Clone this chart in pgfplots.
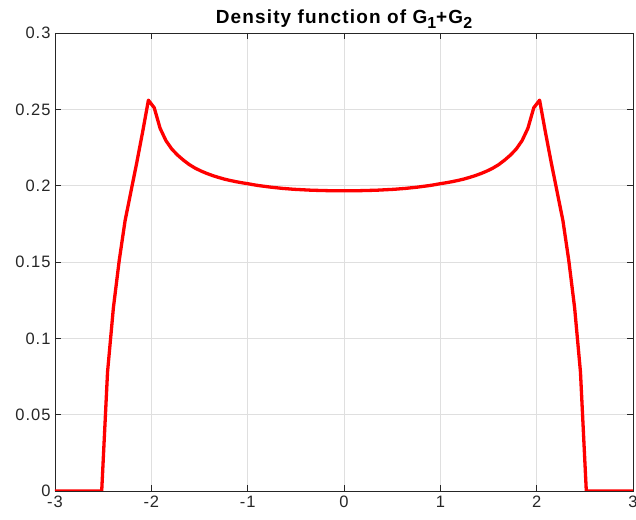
\documentclass[border=0pt]{standalone}
\usepackage{pgfplots}
\pgfplotsset{compat=1.18}
\usepackage{fontspec}
\setmainfont{Liberation Sans}
\newfontfamily\tickfont[LetterSpace=6]{Liberation Sans}
\newfontfamily\titlefont[LetterSpace=6]{Liberation Sans}
\definecolor{axgray}{RGB}{38,38,38}
\definecolor{gridgray}{RGB}{223,223,223}
\newcommand{\sub}[1]{\raisebox{-0.5ex}{\fontsize{16}{16}\selectfont\bfseries #1}}

\begin{document}
\begin{tikzpicture}[x=1pt,y=1pt]
\begin{axis}[
  scale only axis,
  width=578pt, height=458pt,
  xmin=-3, xmax=3, ymin=0, ymax=0.3,
  xtick={-3,-2,...,3},
  ytick={0,0.05,...,0.3},
  scaled y ticks=false,
  yticklabel style={/pgf/number format/fixed, /pgf/number format/precision=2},
  /pgf/number format/assume math mode=true,
  tick label style={font=\tickfont\fontsize{16.5}{18}\selectfont, text=axgray},
  xticklabel style={yshift=-1.5pt},
  yticklabel style={xshift=-1pt},
  axis line style={axgray, line width=0.7pt},
  major tick style={axgray, line width=0.7pt},
  tick align=inside,
  major tick length=6pt,
  xtick pos=both, ytick pos=both,
  grid=major,
  major grid style={gridgray, line width=0.6pt},
  title={\textbf{Density function of G\sub{1}+G\sub{2}}},
  title style={font=\titlefont\fontsize{19}{21}\selectfont, yshift=-5pt},
]
\addplot[red, line width=3.3pt, line join=round] coordinates {
(-3.0000,0) (-2.9394,0) (-2.8788,0) (-2.8182,0) (-2.7576,0) (-2.6970,0)
(-2.6364,0) (-2.5758,0) (-2.5152,0)
(-2.4545,0.078) (-2.3939,0.120) (-2.3333,0.151) (-2.2727,0.177)
(-2.2121,0.196) (-2.1515,0.215) (-2.0909,0.235) (-2.0303,0.256)
(-1.9697,0.2510) (-1.9091,0.2376) (-1.8485,0.2295) (-1.7879,0.2240)
(-1.7273,0.2200) (-1.6667,0.2167) (-1.6061,0.2138) (-1.5455,0.2115)
(-1.4848,0.2096) (-1.4242,0.2080) (-1.3636,0.2066) (-1.3030,0.2054)
(-1.2424,0.2043) (-1.1818,0.2034) (-1.1212,0.2026) (-1.0606,0.2019)
(-1.0000,0.2013) (-0.9394,0.2006) (-0.8788,0.2000) (-0.8182,0.1995)
(-0.7576,0.1990) (-0.6970,0.1986) (-0.6364,0.1982) (-0.5758,0.1979)
(-0.5152,0.1976) (-0.4545,0.1974) (-0.3939,0.1972) (-0.3333,0.1970)
(-0.2727,0.1969) (-0.2121,0.1968) (-0.1515,0.1967) (-0.0909,0.1966)
(-0.0303,0.1966)
(0.0303,0.1966) (0.0909,0.1966) (0.1515,0.1967) (0.2121,0.1968)
(0.2727,0.1969) (0.3333,0.1970) (0.3939,0.1972) (0.4545,0.1974)
(0.5152,0.1976) (0.5758,0.1979) (0.6364,0.1982) (0.6970,0.1986)
(0.7576,0.1990) (0.8182,0.1995) (0.8788,0.2000) (0.9394,0.2006)
(1.0000,0.2013) (1.0606,0.2019) (1.1212,0.2026) (1.1818,0.2034)
(1.2424,0.2043) (1.3030,0.2054) (1.3636,0.2066) (1.4242,0.2080)
(1.4848,0.2096) (1.5455,0.2115) (1.6061,0.2138) (1.6667,0.2167)
(1.7273,0.2200) (1.7879,0.2240) (1.8485,0.2295) (1.9091,0.2376)
(1.9697,0.2510)
(2.0303,0.256) (2.0909,0.235) (2.1515,0.215) (2.2121,0.196)
(2.2727,0.177) (2.3333,0.151) (2.3939,0.120) (2.4545,0.078)
(2.5152,0) (2.5758,0) (2.6364,0) (2.6970,0) (2.7576,0) (2.8182,0)
(2.8788,0) (2.9394,0) (3.0000,0)
};
\end{axis}
\pgfresetboundingbox
\path (current axis.south west) ++(-55pt,-29pt) coordinate (bl);
\path (current axis.north east) ++(3pt,33pt) coordinate (tr);
\path[use as bounding box] (bl) rectangle (tr);
\end{tikzpicture}
\end{document}
